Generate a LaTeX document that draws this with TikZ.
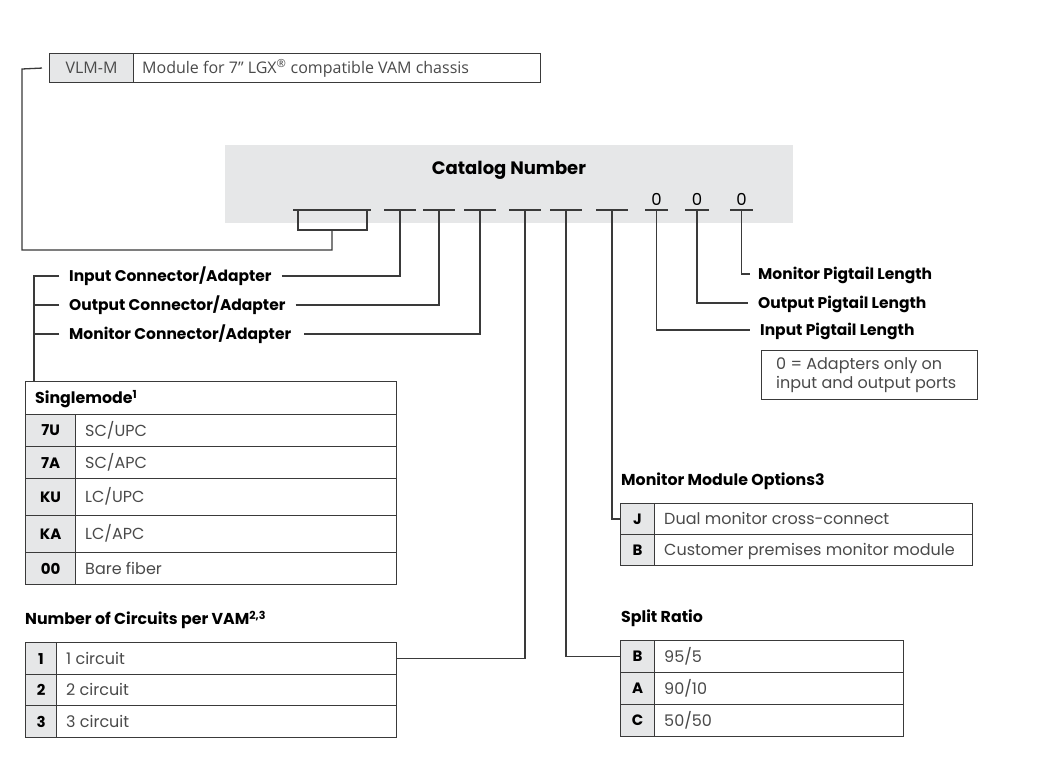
\documentclass[tikz,border=0pt]{standalone}
\usepackage{fontspec}
\setmainfont{Poppins}
\newfontfamily\vlmfont{Open Sans}
\definecolor{lncol}{HTML}{3A3A3A}
\definecolor{codebg}{HTML}{E6E7E8}
\definecolor{desccol}{HTML}{4A4A4A}
\tikzset{
  ln/.style={draw=lncol, line width=1.3pt},
  cell/.style={draw=lncol, line width=1.1pt, anchor=north west, inner sep=0pt, rectangle},
  codecell/.style={cell, fill=codebg, font=\bfseries\fontsize{15}{17}\selectfont, text=black},
  desccell/.style={cell},
  desctext/.style={anchor=west, inner sep=0pt, text height=11pt, text depth=0pt, font=\fontsize{16}{19}\selectfont, text=desccol},
  lab/.style={anchor=west, inner sep=0pt, text height=11pt, text depth=0pt, font=\bfseries\fontsize{15.5}{18}\selectfont, text=black},
  ttl/.style={anchor=west, inner sep=0pt, text height=11pt, text depth=0pt, font=\bfseries\fontsize{15.8}{18}\selectfont, text=black},
  uline/.style={draw=lncol, line width=1.2pt},
  zero/.style={inner sep=0pt, font=\fontsize{16.5}{18}\selectfont, text=black},
}
% #1 name, #2 x, #3 y, #4 code width, #5 desc width, #6 height, #7 code, #8 desc
\newcommand\tabrow[8]{%
  \node[codecell, minimum width=#4, minimum height=#6] (#1c) at (#2,#3) {#7};
  \node[desccell, minimum width=#5, minimum height=#6] (#1d) at (#2+#4,#3) {};
  \node[desctext] (#1t) at ([xshift=10pt]#1d.west) {#8};
}
\begin{document}
\begin{tikzpicture}[x=1pt,y=-1pt]
\useasboundingbox (0,0) rectangle (1049,771);
\fill[white] (0,0) rectangle (1049,771);

% VLM-M box
\node[cell, fill=codebg, minimum width=84, minimum height=29, font=\vlmfont\fontsize{16}{18}\selectfont, text=desccol] (vlmc) at (49,53) {VLM-M};
\node[cell, minimum width=407, minimum height=29] (vlmd) at (133,53) {};
\node[anchor=west, inner sep=0pt, font=\vlmfont\fontsize{16}{18}\selectfont, text=desccol] (vlmt) at ([xshift=9pt]vlmd.west) {Module for 7” LGX\textsuperscript{®} compatible VAM chassis};

% Catalog number box
\node[anchor=north west, fill=codebg, minimum width=568, minimum height=78, inner sep=0pt] (cat) at (225,145) {};
\node[inner sep=0pt, font=\bfseries\fontsize{18}{20}\selectfont] (cattitle) at (509,170) {Catalog Number};

% underline slots
\coordinate (a1) at (293,210); \coordinate (a2) at (371,210);
\draw[uline] (a1) -- (a2);
\foreach \n/\xa/\xb in {b/384/416, c/423/455, d/464/496, e/509/541, f/550/582, g/596/628, h/645/668, i/685/709, j/730/753}{
  \coordinate (\n1) at (\xa,210); \coordinate (\n2) at (\xb,210);
  \coordinate (\n) at ({(\xa+\xb)/2},210);
  \draw[uline] (\n1) -- (\n2);
}
\node[zero, anchor=base] (z1) at ([yshift=4.5pt]h) {0};
\node[zero, anchor=base] (z2) at ([yshift=4.5pt]i) {0};
\node[zero, anchor=base] (z3) at ([yshift=4.5pt]j) {0};

% bracket under first slot to VLM-M
\coordinate (br1) at (298,210); \coordinate (br2) at (367,210);
\coordinate (brm) at (332,230);
\draw[ln] (br1) -- (298,230) -- (367,230) -- (br2);
\coordinate (vl) at (22,69);
\draw[ln] (brm) -- (332,250) -| (vl) -- ([xshift=-7pt]vlmc.west);

% left labels
\node[lab] (inlab) at (69,276) {Input Connector/Adapter};
\node[lab] (outlab) at (69,305) {Output Connector/Adapter};
\node[lab] (monlab) at (69,334) {Monitor Connector/Adapter};
\draw[ln] ([xshift=10pt]inlab.east) -| (b);
\draw[ln] ([xshift=10pt]outlab.east) -| (c);
\draw[ln] ([xshift=13pt]monlab.east) -| (d);

% Singlemode table
\node[cell, minimum width=371, minimum height=33] (smh) at (25,381) {};
\node[ttl] (smt) at ([xshift=10pt]smh.west) {Singlemode\textsuperscript{1}};
\tabrow{sa}{25}{414}{50}{321}{32}{7U}{SC/UPC}
\tabrow{sb}{25}{446}{50}{321}{32}{7A}{SC/APC}
\tabrow{sc}{25}{478}{50}{321}{37}{KU}{LC/UPC}
\tabrow{sd}{25}{515}{50}{321}{37}{KA}{LC/APC}
\tabrow{se}{25}{552}{50}{321}{32}{00}{Bare fiber}

% left bracket
\coordinate (lb) at (34,276);
\draw[ln] ([xshift=-10pt]inlab.west) -| (smh.north west -| lb);
\draw[ln] ([xshift=-10pt]outlab.west) -- (outlab.west -| lb);
\draw[ln] ([xshift=-10pt]monlab.west) -- (monlab.west -| lb);

% Pigtail labels
\node[lab] (mplab) at (758,274) {Monitor Pigtail Length};
\node[lab] (oplab) at (758,303) {Output Pigtail Length};
\node[lab] (iplab) at (760,330) {Input Pigtail Length};
\draw[ln] (j) |- ([xshift=-8pt]mplab.west);
\draw[ln] (i) |- ([xshift=-10pt]oplab.west);
\draw[ln] (h) |- ([xshift=-10pt]iplab.west);
\node[cell, minimum width=216, minimum height=49] (note) at (761,350) {};
\node[anchor=west, inner sep=0pt, align=left, font=\fontsize{16}{19}\selectfont, text=desccol] (notet) at ([xshift=15pt]note.west) {0 = Adapters only on\\input and output ports};

% Monitor module options
\node[ttl] (mmt) at (621,480) {Monitor Module Options3};
\tabrow{ma}{620}{503}{34}{318}{31}{J}{Dual monitor cross-connect}
\tabrow{mb}{620}{534}{34}{318}{31}{B}{Customer premises monitor module}
\draw[ln] (g) |- (mac.west);

% Split ratio
\node[ttl] (srt) at (621,617) {Split Ratio};
\tabrow{ra}{620}{640}{34}{249}{32}{B}{95/5}
\tabrow{rb}{620}{672}{34}{249}{32}{A}{90/10}
\tabrow{rc}{620}{704}{34}{249}{32}{C}{50/50}
\draw[ln] (f) |- (rac.west);

% Circuits
\node[ttl] (nct) at (25,619) {Number of Circuits per VAM\textsuperscript{2,3}};
\tabrow{ca}{25}{642}{31}{340}{32}{1}{1 circuit}
\tabrow{cb}{25}{674}{31}{340}{31}{2}{2 circuit}
\tabrow{cc}{25}{705}{31}{340}{32}{3}{3 circuit}
\draw[ln] (e) |- (cad.east);
\end{tikzpicture}
\end{document}
